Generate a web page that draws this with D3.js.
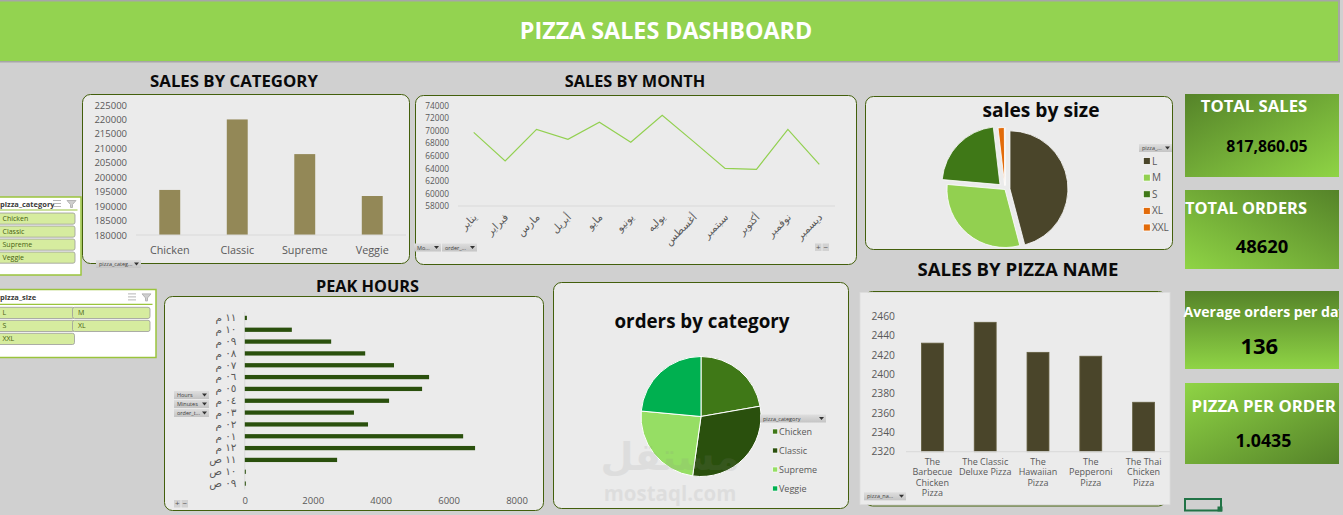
<!DOCTYPE html>
<html>
<head>
<meta charset="utf-8">
<script src="https://cdn.jsdelivr.net/npm/d3@7"></script>
<style>
  html, body { margin: 0; padding: 0; background: #d0d0d0; overflow: hidden; }
  svg { display: block; }
  text { font-family: "Open Sans", "DejaVu Sans", sans-serif; }
  .title { font-weight: 700; fill: #0a0a0a; text-anchor: middle; dominant-baseline: central; }
  .axis text { fill: #595959; }
  .axis path, .axis line { stroke: none; }
  .arabic text, text.arabic { font-family: "DejaVu Sans", sans-serif; }
</style>
</head>
<body>
<svg id="chart" width="1343" height="515"></svg>
<script>
// sales by category
const categories = ["Chicken", "Classic", "Supreme", "Veggie"]
const categorySales = [195600, 220000, 208000, 193500]
const categoryTicks = [180000, 185000, 190000, 195000, 200000, 205000, 210000, 215000, 220000, 225000]

// sales by month
const months = ["يناير", "فبراير", "مارس", "أبريل", "مايو", "يونيو", "يوليه", "أغسطس", "سبتمبر", "أكتوبر", "نوفمبر", "ديسمبر"]
const monthSales = [69750, 65180, 70230, 68640, 71350, 68160, 72470, 68270, 64000, 63850, 70230, 64650]
const monthTicks = [58000, 60000, 62000, 64000, 66000, 68000, 70000, 72000, 74000]

// sales by size
const sizes = ["L", "M", "S", "XL", "XXL"]
const sizeSales = [375318, 249382, 178076, 14076, 1006]
const sizeColors = ["#4a452a", "#92d050", "#3f7817", "#e26b0a", "#e26b0a"]

// peak hours
const hours = ["١١ م", "١٠ م", "٠٩ م", "٠٨ م", "٠٧ م", "٠٦ م", "٠٥ م", "٠٤ م", "٠٣ م", "٠٢ م", "٠١ م", "١٢ م", "١١ ص", "١٠ ص", "٠٩ ص"]
const hourOrders = [62, 1385, 2543, 3545, 4393, 5426, 5220, 4248, 3214, 3628, 6429, 6780, 2718, 30, 30]
const hourTicks = [0, 2000, 4000, 6000, 8000]

// orders by category
const categoryOrders = [10815, 14579, 11777, 11449]
const orderColors = ["#3f7817", "#2a500d", "#96de64", "#00b050"]

// sales by pizza name
const pizzas = ["The Barbecue Chicken Pizza", "The Classic Deluxe Pizza", "The Hawaiian Pizza", "The Pepperoni Pizza", "The Thai Chicken Pizza"]
const pizzaSales = [2432, 2453.5, 2422.5, 2418.5, 2371]
const pizzaTicks = [2320, 2340, 2360, 2380, 2400, 2420, 2440, 2460]

const svg = d3.select("#chart")
const defs = svg.append("defs")

function gradient(id, x1, y1, x2, y2, from, to) {
  const g = defs.append("linearGradient").attr("id", id)
    .attr("x1", x1).attr("y1", y1).attr("x2", x2).attr("y2", y2)
  g.append("stop").attr("offset", "0%").attr("stop-color", from)
  g.append("stop").attr("offset", "100%").attr("stop-color", to)
}
const dark = "#558329", light = "#8fd445"
gradient("tile1", 0, 0, 1, 1, dark, light)
gradient("tile2", 0, 1, 1, 0, light, dark)
gradient("tile3", 0, 0, 0, 1, dark, light)
gradient("tile4", 0, 0, 1, 1, light, dark)
gradient("btn", 0, 0, 0, 1, "#dedede", "#c4c4c4")

function title(txt, x, y, size) {
  svg.append("text").attr("class", "title").attr("x", x).attr("y", y)
    .style("font-size", size + "px").text(txt)
}

function panel(x0, y0, x1, y1) {
  svg.append("rect").attr("x", x0).attr("y", y0).attr("width", x1 - x0).attr("height", y1 - y0)
    .attr("rx", 8).attr("fill", "#ebebeb").attr("stroke", "#435f0c").attr("stroke-width", 1)
}

// the little grey pivot field buttons
function fieldButton(x, y, w, label) {
  const g = svg.append("g").attr("transform", `translate(${x},${y})`)
  g.append("rect").attr("width", w).attr("height", 8).attr("fill", "url(#btn)")
  g.append("text").attr("x", 3).attr("y", 6).style("font-size", "5.5px").attr("fill", "#404040").text(label)
  g.append("path").attr("d", `M${w - 7},2.5h5l-2.5,3z`).attr("fill", "#333")
}

function zoomButtons(x, y) {
  ["+", "−"].forEach((s, i) => {
    svg.append("rect").attr("x", x + i * 7.5).attr("y", y).attr("width", 6.5).attr("height", 7.5).attr("fill", "#d2d2d2")
    svg.append("text").attr("x", x + 3.2 + i * 7.5).attr("y", y + 6.2).attr("text-anchor", "middle")
      .style("font-size", "8px").attr("fill", "#555").text(s)
  })
}

function slicer(name, x1, y0, y1, lineY, items, cols) {
  svg.append("rect").attr("x", -3).attr("y", y0).attr("width", x1 + 3).attr("height", y1 - y0)
    .attr("fill", "#fff").attr("stroke", "#9ac43c").attr("stroke-width", 1.5)
  svg.append("text").attr("x", 0).attr("y", (y0 + lineY) / 2 + 3).style("font-size", "7.5px")
    .style("font-weight", 700).attr("fill", "#3a3a3a").text(name)
  svg.append("line").attr("x1", 0).attr("x2", x1 - 3.5).attr("y1", lineY).attr("y2", lineY)
    .attr("stroke", "#9ac43c").attr("stroke-width", 1.2)
  // multi select + clear filter icons
  const ic = svg.append("g").attr("stroke", "#b5b5b5").attr("stroke-width", 1).attr("fill", "none")
  const iy = (y0 + lineY) / 2
  ic.append("path").attr("d", `M${x1 - 28},${iy - 3}h8M${x1 - 28},${iy}h8M${x1 - 28},${iy + 3}h8`)
  ic.append("path").attr("d", `M${x1 - 14},${iy - 3}h9l-3.5,4v3h-2v-3z`).attr("fill", "#cfcfcf")
  const colW = (x1 - 5) / cols
  items.forEach((d, i) => {
    const bx = (i % cols) * colW, by = lineY + 3 + Math.floor(i / cols) * 13
    svg.append("rect").attr("x", bx - 3).attr("y", by).attr("width", colW + 2).attr("height", 11.2).attr("rx", 2)
      .attr("fill", "#d6ec9f").attr("stroke", "#9a9a9a").attr("stroke-width", 0.8)
    svg.append("text").attr("x", bx + 2.5).attr("y", by + 8).style("font-size", "7px").attr("fill", "#46600f").text(d)
  })
}

// wrap svg text to a width, lines go downwards from y
function wrap(text, width) {
  text.each(function() {
    const t = d3.select(this), words = t.text().split(/\s+/).reverse()
    let word, line = []
    let tspan = t.text(null).append("tspan").attr("x", 0).attr("dy", ".71em")
    while (word = words.pop()) {
      line.push(word)
      tspan.text(line.join(" "))
      if (tspan.node().getComputedTextLength() > width) {
        line.pop()
        tspan.text(line.join(" "))
        line = [word]
        tspan = t.append("tspan").attr("x", 0).attr("dy", 10.5).text(word)
      }
    }
  })
}

// background + header
svg.append("rect").attr("width", 1343).attr("height", 515).attr("fill", "#d0d0d0")
svg.append("rect").attr("x", 0).attr("y", 0).attr("width", 1340).attr("height", 62.5).attr("fill", "#a6a6a6")
svg.append("rect").attr("x", 0).attr("y", 1.5).attr("width", 1338).attr("height", 59.5).attr("fill", "#93d350")
svg.append("text").attr("x", 666).attr("y", 30).attr("text-anchor", "middle").attr("dominant-baseline", "central")
  .style("font-size", "23.3px").style("font-weight", 700).attr("fill", "#fff").text("PIZZA SALES DASHBOARD")

// ---- sales by category
title("SALES BY CATEGORY", 234, 80, 16.8)
panel(82.5, 94.5, 409.5, 263.5)
const catX = d3.scaleBand().domain(categories).range([136, 406]).paddingInner(0.69).paddingOuter(0.345)
const catY = d3.scaleLinear().domain([180000, 225000]).range([235, 105])
svg.append("g").attr("class", "axis").attr("transform", "translate(130,0)")
  .call(d3.axisLeft(catY).tickValues(categoryTicks).tickSize(0).tickFormat(d3.format("d")))
  .selectAll("text").style("font-size", "9.5px")
svg.append("g").attr("class", "axis").attr("transform", "translate(0,235)")
  .call(d3.axisBottom(catX).tickSize(0).tickPadding(11))
  .selectAll("text").style("font-size", "10.8px")
svg.selectAll(".catbar").data(categories).join("rect").attr("class", "catbar")
  .attr("x", d => catX(d)).attr("width", catX.bandwidth())
  .attr("y", (d, i) => catY(categorySales[i])).attr("height", (d, i) => catY(180000) - catY(categorySales[i]))
  .attr("fill", "#938857")
svg.append("line").attr("x1", 136).attr("x2", 406).attr("y1", 235).attr("y2", 235).attr("stroke", "#d9d9d9")
fieldButton(96, 260, 45, "pizza_categ...")

// ---- sales by month
title("SALES BY MONTH", 635, 80.5, 16.3)
panel(415.5, 95.5, 856.5, 264.5)
const monX = d3.scalePoint().domain(months).range([458, 835]).padding(0.5)
const monY = d3.scaleLinear().domain([58000, 74000]).range([206, 105.7])
svg.append("g").attr("class", "axis").attr("transform", "translate(452,0)")
  .call(d3.axisLeft(monY).tickValues(monthTicks).tickSize(0).tickFormat(d3.format("d")))
  .selectAll("text").style("font-size", "8.3px")
svg.append("line").attr("x1", 458).attr("x2", 835).attr("y1", 206).attr("y2", 206).attr("stroke", "#d9d9d9")
svg.append("path").attr("fill", "none").attr("stroke", "#92d050").attr("stroke-width", 1.2)
  .attr("d", d3.line().x((d, i) => monX(months[i])).y(d => monY(d))(monthSales))
svg.append("g").attr("class", "axis arabic").selectAll("text").data(months).join("text")
  .attr("transform", d => `translate(${monX(d) + 1},215) rotate(-45)`)
  .attr("text-anchor", "end").attr("dominant-baseline", "central")
  .style("font-size", "10.5px").text(d => d)
fieldButton(414, 243.5, 27, "Mo...")
fieldButton(442, 243.5, 35, "order_...")
zoomButtons(815, 243.5)

// ---- sales by size (every slice pulled out by its own amount)
panel(865.5, 96.5, 1172.5, 249.5)
title("sales by size", 1041, 109, 19.2)
const sizeExplode = [5, 0, 7, 4, 4]
const sizeArcs = d3.pie().sort(null)(sizeSales)
const sizeArc = d3.arc().innerRadius(0).outerRadius(58)
svg.append("g").attr("transform", "translate(1005,189.5)").selectAll("path").data(sizeArcs).join("path")
  .attr("d", sizeArc).attr("fill", (d, i) => sizeColors[i]).attr("stroke", "#fff").attr("stroke-width", 0.8)
  .attr("transform", (d, i) => {
    const a = (d.startAngle + d.endAngle) / 2
    return `translate(${sizeExplode[i] * Math.sin(a)},${-sizeExplode[i] * Math.cos(a)})`
  })
fieldButton(1139, 144, 33, "pizza_...")
const sizeLegY = d3.scalePoint().domain(sizes).range([161, 227.5])
sizes.forEach((d, i) => {
  svg.append("rect").attr("x", 1143.3).attr("y", sizeLegY(d) - 3.5).attr("width", 7).attr("height", 7)
    .attr("fill", sizeColors[i]).attr("stroke", "#fff").attr("stroke-width", 0.8)
  svg.append("text").attr("x", 1152).attr("y", sizeLegY(d) + 3.5).style("font-size", "10px").attr("fill", "#595959").text(d)
})

// ---- KPI tiles
const clip = defs.append("clipPath").attr("id", "tiles")
clip.append("rect").attr("x", 1180).attr("y", 0).attr("width", 159).attr("height", 515)
const tiles = svg.append("g").attr("clip-path", "url(#tiles)")
function tile(id, y0, y1, name, nameX, nameY, nameSize, value, valX, valY, valSize) {
  tiles.append("rect").attr("x", 1185).attr("y", y0).attr("width", 154).attr("height", y1 - y0).attr("fill", `url(#${id})`)
  tiles.append("text").attr("x", nameX).attr("y", nameY).attr("text-anchor", "middle").attr("dominant-baseline", "central")
    .style("font-size", nameSize + "px").style("font-weight", 700).attr("fill", "#fff").text(name)
  tiles.append("text").attr("x", valX).attr("y", valY).attr("text-anchor", "middle").attr("dominant-baseline", "central")
    .style("font-size", valSize + "px").style("font-weight", 700).attr("fill", "#000").text(value)
}
tile("tile1", 94, 177, "TOTAL SALES", 1254, 105, 16.7, "817,860.05", 1267, 146, 15.8)
tile("tile2", 190, 269, "TOTAL ORDERS", 1246, 207, 16.4, "48620", 1262, 245, 18.4)
tile("tile3", 291, 369, "Average orders per day", 1265, 311, 14.1, "136", 1259.3, 344.5, 22)
tile("tile4", 383, 464, "PIZZA PER ORDER", 1263.7, 405.5, 16.8, "1.0435", 1263.5, 440, 17.8)

// ---- slicers
slicer("pizza_category", 81, 197, 275, 210, categories, 1)
slicer("pizza_size", 156, 289.5, 357.5, 304.3, sizes, 2)

// ---- peak hours
title("PEAK HOURS", 367.5, 285.5, 16.3)
panel(164.5, 296.5, 543.5, 510.5)
const hourX = d3.scaleLinear().domain([0, 8000]).range([244.8, 516.5])
const hourY = d3.scaleBand().domain(hours).range([312, 489.5]).paddingInner(0.64).paddingOuter(0.32)
svg.append("g").attr("class", "axis").attr("transform", "translate(0,489.5)")
  .call(d3.axisBottom(hourX).tickValues(hourTicks).tickSize(0).tickPadding(8).tickFormat(d3.format("d")))
  .selectAll("text").style("font-size", "9.5px")
svg.append("g").attr("class", "axis arabic").attr("transform", "translate(239.5,0)")
  .call(d3.axisLeft(hourY).tickSize(0))
  .selectAll("text").style("font-size", "10.5px")
svg.append("line").attr("x1", 244.8).attr("x2", 244.8).attr("y1", 312).attr("y2", 489.5).attr("stroke", "#d9d9d9")
svg.selectAll(".hourbar").data(hours).join("rect").attr("class", "hourbar")
  .attr("x", hourX(0)).attr("y", d => hourY(d)).attr("height", hourY.bandwidth())
  .attr("width", (d, i) => hourX(hourOrders[i]) - hourX(0)).attr("fill", "#2a500d")
fieldButton(174, 391, 35, "Hours")
fieldButton(174, 400, 35, "Minutes")
fieldButton(174, 409, 35, "order_t...")
zoomButtons(174, 500)

// ---- orders by category
panel(553.5, 282.5, 848.5, 508.5)
title("orders by category", 702, 321, 18.8)
const orderArc = d3.arc().innerRadius(0).outerRadius(60)
svg.append("g").attr("transform", "translate(701,416.5)").selectAll("path")
  .data(d3.pie().sort(null)(categoryOrders)).join("path")
  .attr("d", orderArc).attr("fill", (d, i) => orderColors[i]).attr("stroke", "#fff").attr("stroke-width", 1)
fieldButton(760, 414.5, 66, "pizza_category")
const orderLegY = d3.scalePoint().domain(categories).range([431.5, 488.5])
categories.forEach((d, i) => {
  svg.append("rect").attr("x", 772.7).attr("y", orderLegY(d) - 2.5).attr("width", 5).attr("height", 5)
    .attr("fill", orderColors[i]).attr("stroke", "#fff").attr("stroke-width", 0.6)
  svg.append("text").attr("x", 779).attr("y", orderLegY(d) + 3).style("font-size", "9px").attr("fill", "#595959").text(d)
})

// ---- sales by pizza name
title("SALES BY PIZZA NAME", 1018, 268, 18.6)
panel(864.5, 291.5, 1166.5, 506)
svg.append("rect").attr("x", 860).attr("y", 292.5).attr("width", 310).attr("height", 212).attr("fill", "#ebebeb")
  .attr("stroke", "#dcdcdc").attr("stroke-width", 0.8)
const pizX = d3.scaleBand().domain(pizzas).range([906, 1170]).paddingInner(0.585).paddingOuter(0.2925)
const pizY = d3.scaleLinear().domain([2320, 2460]).range([451.7, 316])
svg.append("g").attr("class", "axis").attr("transform", "translate(898,0)")
  .call(d3.axisLeft(pizY).tickValues(pizzaTicks).tickSize(0).tickFormat(d3.format("d")))
  .selectAll("text").style("font-size", "10.3px")
svg.append("g").attr("class", "axis").attr("transform", "translate(0,451.7)")
  .call(d3.axisBottom(pizX).tickSize(0).tickPadding(6.5))
  .selectAll("text").style("font-size", "9px").call(wrap, 53.2)
svg.selectAll(".pizbar").data(pizzas).join("rect").attr("class", "pizbar")
  .attr("x", d => pizX(d)).attr("width", pizX.bandwidth())
  .attr("y", (d, i) => pizY(pizzaSales[i])).attr("height", (d, i) => pizY(2320) - pizY(pizzaSales[i]))
  .attr("fill", "#4a452a").attr("stroke", "#625d3e").attr("stroke-width", 0.8)
svg.append("line").attr("x1", 906).attr("x2", 1170).attr("y1", 451.7).attr("y2", 451.7).attr("stroke", "#d9d9d9")
fieldButton(864, 492.3, 42, "pizza_na...")

// ---- selected cell cursor
svg.append("rect").attr("x", 1185).attr("y", 499).attr("width", 36).attr("height", 11.5)
  .attr("fill", "none").attr("stroke", "#217346").attr("stroke-width", 2)
svg.append("rect").attr("x", 1217.5).attr("y", 506.5).attr("width", 5).attr("height", 5).attr("fill", "#217346")

// ---- watermark
svg.append("text").attr("class", "arabic").attr("x", 670).attr("y", 470).attr("text-anchor", "middle")
  .style("font-size", "38px").style("font-weight", 700).attr("fill", "#888").attr("opacity", 0.13).text("مستقل")
svg.append("text").attr("x", 670).attr("y", 501).attr("text-anchor", "middle")
  .style("font-size", "20.5px").style("font-weight", 700).attr("fill", "#888").attr("opacity", 0.13).text("mostaql.com")
</script>
</body>
</html>
